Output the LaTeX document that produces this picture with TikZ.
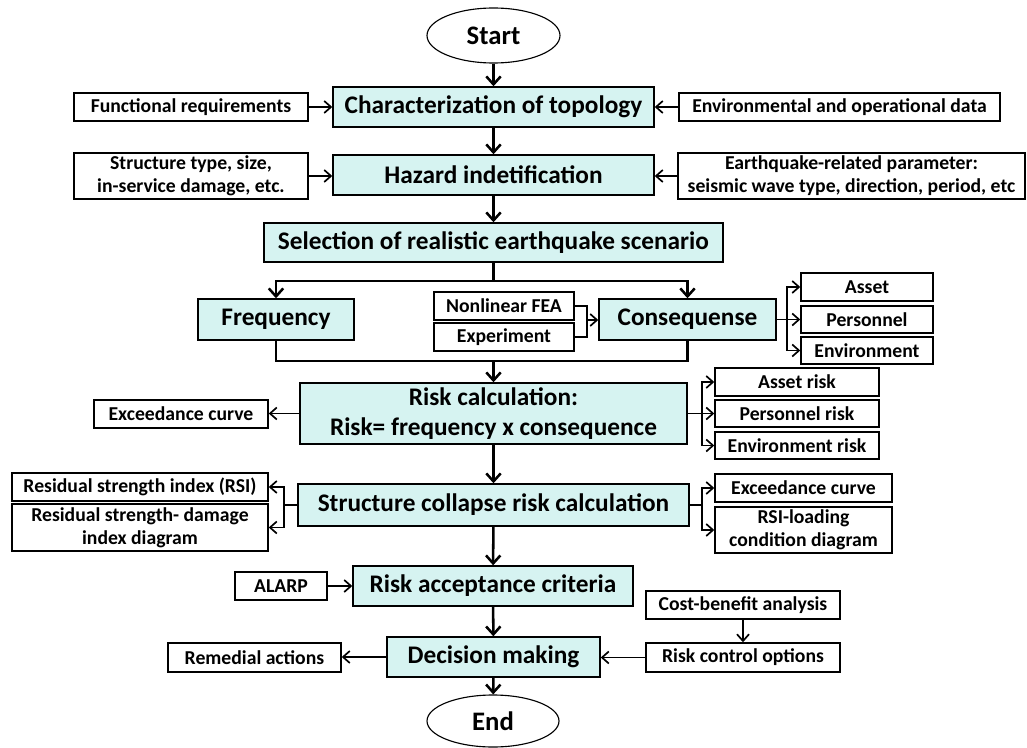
\documentclass[tikz,border=0pt]{standalone}
\usepackage{fontspec}
\setmainfont{Carlito}
\usepackage{tikz}
\usetikzlibrary{shapes.geometric,arrows.meta}

\definecolor{boxcyan}{RGB}{214,243,241}

\begin{document}
\begin{tikzpicture}[x=0.025cm, y=-0.025cm,
        boxdim/.style 2 args={minimum width=#1*0.025cm, minimum height=#2*0.025cm},
        mainbox/.style={draw, line width=1pt, fill=boxcyan, inner sep=0pt, align=center, font=\fontsize{18}{21.5}\selectfont\bfseries},
        sidebox/.style={draw, line width=1pt, fill=white, inner sep=0pt, align=center, font=\fontsize{14}{16.5}\selectfont\bfseries},
        term/.style={draw, ellipse, line width=0.8pt, inner sep=0pt, font=\fontsize{19}{22}\selectfont\bfseries},
        flow/.style={-{Straight Barb[length=2mm,width=3.6mm]}, line width=1.8pt},
        link/.style={-{Straight Barb[length=1.7mm,width=3mm]}, line width=1.2pt},
        trunk/.style={line width=1.8pt},
        twig/.style={line width=1.2pt}]
        \useasboundingbox (0,0) rectangle (1027,748);

        % Start
        \node[term, boxdim={133}{55}] (start) at (493.5,35.5) {Start};

        % Topology
        \node[mainbox, boxdim={321}{40}] (topo) at (493.5,107) {Characterization of topology};
        \node[sidebox, boxdim={234}{28}] (func) at (191,107) {Functional requirements};
        \node[sidebox, boxdim={321}{28}] (envdata) at (839.5,107) {Environmental and operational data};

        % Hazard
        \node[mainbox, boxdim={321}{40}] (hazard) at (493.5,175) {Hazard indetification};
        \node[sidebox, boxdim={234}{46}] (structtype) at (191,176) {Structure type, size,\\in-service damage, etc.};
        \node[sidebox, boxdim={347}{46}] (quake) at (851.5,176) {Earthquake-related parameter:\\seismic wave type, direction, period, etc};

        % Scenario
        \node[mainbox, boxdim={459}{39}] (scenario) at (493.5,242.5) {Selection of realistic earthquake scenario};

        % Frequency and consequence
        \node[mainbox, boxdim={156}{41}] (freq) at (276,319.5) {Frequency};
        \node[sidebox, boxdim={140}{28}] (fea) at (504,306) {Nonlinear FEA};
        \node[sidebox, boxdim={140}{28}] (exper) at (504,337) {Experiment};
        \node[mainbox, boxdim={177}{41}] (conseq) at (687.5,319.5) {Consequense};
        \node[sidebox, boxdim={132}{28}] (asset) at (867,287) {Asset};
        \node[sidebox, boxdim={132}{27}] (personnel) at (867,319.5) {Personnel};
        \node[sidebox, boxdim={132}{27}] (environ) at (867,350.5) {Environment};

        % Risk calculation
        \node[mainbox, boxdim={387}{61}] (riskcalc) at (493.5,413.5) {Risk calculation:\\Risk= frequency x consequence};
        \node[sidebox, boxdim={174}{28}] (exceed) at (181,414) {Exceedance curve};
        \node[sidebox, boxdim={164}{28}] (assetrisk) at (797,382) {Asset risk};
        \node[sidebox, boxdim={164}{27}] (persrisk) at (797,413.5) {Personnel risk};
        \node[sidebox, boxdim={164}{27}] (envrisk) at (797,445.5) {Environment risk};

        % Collapse risk
        \node[mainbox, boxdim={391}{42}] (collapse) at (493.5,505) {Structure collapse risk calculation};
        \node[sidebox, boxdim={256}{28}] (rsi) at (140,487) {Residual strength index (RSI)};
        \node[sidebox, boxdim={256}{47}] (rsidmg) at (140,527.5) {Residual strength- damage\\index diagram};
        \node[sidebox, boxdim={177}{28}] (exceedtwo) at (803.5,488) {Exceedance curve};
        \node[sidebox, boxdim={177}{46}] (rsiload) at (803.5,530) {RSI-loading\\condition diagram};

        % Acceptance
        \node[mainbox, boxdim={280}{40}] (accept) at (493,586) {Risk acceptance criteria};
        \node[sidebox, boxdim={92}{28}] (alarp) at (281,586) {ALARP};

        % Decision
        \node[mainbox, boxdim={213}{40}] (decision) at (493.5,657) {Decision making};
        \node[sidebox, boxdim={173}{29}] (remedial) at (254.5,657.5) {Remedial actions};
        \node[sidebox, boxdim={194}{28}] (costben) at (743,605) {Cost-benefit analysis};
        \node[sidebox, boxdim={194}{29}] (rco) at (743,657.5) {Risk control options};

        % End
        \node[term, boxdim={132}{52}] (stop) at (493,721) {End};

        % Junctions
        \coordinate (split) at (493.5,281);
        \coordinate (merge) at (493.5,361);
        \coordinate (feajoin) at (587,320);
        \coordinate (confan) at (787,319.5);
        \coordinate (riskfan) at (702,413.5);
        \coordinate (colleft) at (284,505);
        \coordinate (colright) at (702,505);

        % Arrows
        \draw[flow] (start) -- (topo);
        \draw[flow] (topo) -- (hazard);
        \draw[flow] (hazard) -- (scenario);
        \draw[link] (func) -- (topo);
        \draw[link] (envdata) -- (topo);
        \draw[link] (structtype) -- (structtype -| hazard.west);
        \draw[link] (quake) -- (quake -| hazard.east);

        \draw[trunk] (scenario) -- (split);
        \draw[flow] (split) -| (freq.north);
        \draw[flow] (split) -| (conseq.north);
        \draw[twig] (fea.east) -| (feajoin);
        \draw[twig] (exper.east) -| (feajoin);
        \draw[link] (feajoin) -- (feajoin -| conseq.west);
        \draw[twig] (conseq.east) -- (confan);
        \draw[link] (confan) |- (asset.west);
        \draw[link] (confan) -- (personnel.west);
        \draw[link] (confan) |- (environ.west);
        \draw[trunk] (freq.south) |- (merge) -| (conseq.south);
        \draw[flow] (merge) -- (riskcalc);

        \draw[link] (riskcalc.west) -- (riskcalc.west -| exceed.east);
        \draw[twig] (riskcalc.east) -- (riskfan);
        \draw[link] (riskfan) |- (assetrisk.west);
        \draw[link] (riskfan) -- (persrisk.west);
        \draw[link] (riskfan) |- (envrisk.west);

        \draw[flow] (riskcalc) -- (collapse);
        \draw[twig] (collapse.west) -- (colleft);
        \draw[link] (colleft) |- (rsi.east);
        \draw[link] (colleft) |- (rsidmg.east);
        \draw[twig] (collapse.east) -- (colright);
        \draw[link] (colright) |- (exceedtwo.west);
        \draw[link] (colright) |- (rsiload.west);

        \draw[flow] (collapse) -- (accept);
        \draw[link] (alarp) -- (accept);
        \draw[flow] (accept) -- (decision);
        \draw[link] (decision.west) -- (decision.west -| remedial.east);
        \draw[link] (costben) -- (rco);
        \draw[link] (rco.west) -- (rco.west -| decision.east);
        \draw[flow] (decision) -- (stop);
    \end{tikzpicture}
\end{document}
